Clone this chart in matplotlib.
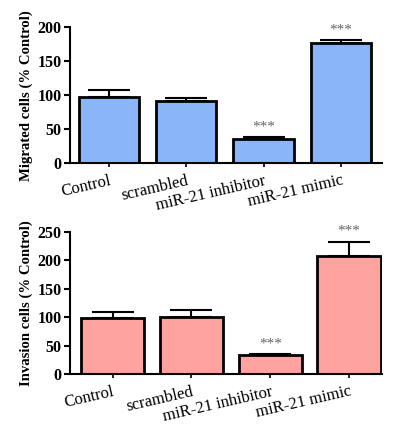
import matplotlib.pyplot as plt

groups = ["Control", "scrambled", "miR-21 inhibitor", "miR-21 mimic"]

migrated = [98, 91, 35, 177]
migrated_err = [10, 5, 3, 5]
invasion = [99, 101, 33, 208]
invasion_err = [10, 12, 2, 25]
stars = ["", "", "***", "***"]

plt.rcParams['font.family'] = ['Liberation Serif', 'DejaVu Serif']

fig = plt.figure(figsize=(3.98, 4.24), dpi=100)
ax1 = fig.add_axes([0.176, 0.6156, 0.784, 0.320])
ax2 = fig.add_axes([0.176, 0.118, 0.784, 0.335])


def draw(ax, vals, errs, color, ylab, ymax, step, width, xlim):
    x = range(len(vals))
    ax.bar(x, vals, width=width, color=color, edgecolor='black', linewidth=2, zorder=2)
    ax.errorbar(x, vals, yerr=[[0]*len(errs), errs], fmt='none', ecolor='black',
                elinewidth=1.5, capsize=15, capthick=1.5, zorder=1)
    for i, s in enumerate(stars):
        if s:
            ax.text(i, vals[i] + errs[i] + ymax*0.025, s, ha='center', va='bottom',
                    color='#666666', fontsize=11)
    ax.set_xlim(xlim)
    ax.set_ylim(0, ymax)
    ax.set_yticks(range(0, ymax + 1, step))
    ax.set_xticks(list(x))
    ax.set_xticklabels(groups, rotation=13, ha='right', rotation_mode='anchor', fontsize=12)
    for lab in ax.get_yticklabels():
        lab.set_fontweight('bold')
        lab.set_fontsize(11.5)
    ax.tick_params(axis='y', width=1.5, length=4, pad=2)
    ax.tick_params(axis='x', width=1.2, length=3, pad=4)
    ax.set_ylabel(ylab, fontsize=10.6, fontweight='bold', labelpad=3)
    ax.spines['right'].set_visible(False)
    ax.spines['top'].set_visible(False)
    ax.spines['left'].set_linewidth(1.5)
    ax.spines['bottom'].set_linewidth(1.5)


draw(ax1, migrated, migrated_err, '#8ab6f9', "Migrated cells (% Control)", 200, 50, 0.78,
     (-0.5, 3.53))
draw(ax2, invasion, invasion_err, '#ffa3a0', "Invasion cells (% Control)", 250, 50, 0.8,
     (-0.54, 3.42))

fig.savefig("out.png", dpi=100)
